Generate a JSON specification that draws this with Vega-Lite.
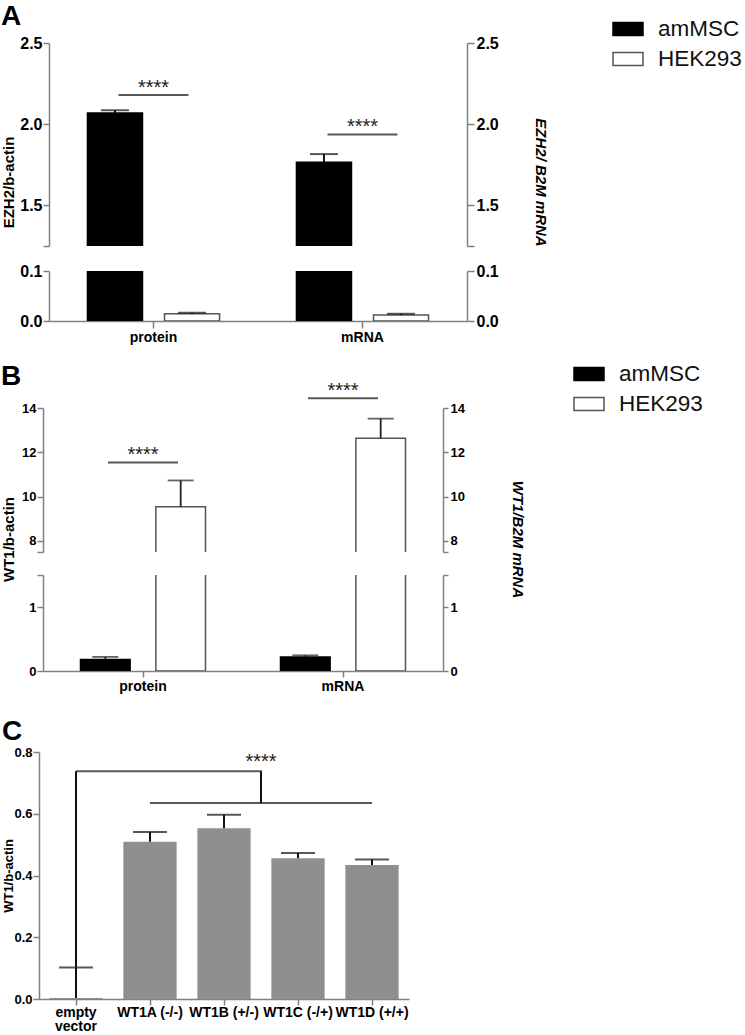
{
  "$schema": "https://vega.github.io/schema/vega-lite/v6.json",
  "padding": {"left": 1, "top": 3, "right": 0, "bottom": 0},
  "config": {
    "font": "Liberation Sans",
    "view": {"stroke": null},
    "axis": {"domainColor": "#808080", "tickColor": "#808080", "domainWidth": 1.5, "tickWidth": 1.5, "labelColor": "#000000", "labelFontWeight": "bold", "titleColor": "#000000", "titleFontWeight": "bold", "grid": false, "labelFont": "Liberation Sans", "titleFont": "Liberation Sans"},
    "title": {"font": "Liberation Sans", "fontWeight": "bold", "fontSize": 28, "color": "#000000", "anchor": "start", "frame": "bounds"}
  },
  "datasets": {
    "A": [
      {"cat": "protein", "series": "amMSC", "mean": 2.069, "upper": 2.086},
      {"cat": "protein", "series": "HEK293", "mean": 0.0144, "upper": 0.0165},
      {"cat": "mRNA", "series": "amMSC", "mean": 1.766, "upper": 1.816},
      {"cat": "mRNA", "series": "HEK293", "mean": 0.0119, "upper": 0.0144}
    ],
    "Asig": [
      {"cat": "protein", "y": 2.18, "label": "****"},
      {"cat": "mRNA", "y": 1.937, "label": "****"}
    ],
    "B": [
      {"cat": "protein", "series": "amMSC", "mean": 0.18, "upper": 0.22},
      {"cat": "protein", "series": "HEK293", "mean": 9.54, "upper": 10.73},
      {"cat": "mRNA", "series": "amMSC", "mean": 0.22, "upper": 0.245},
      {"cat": "mRNA", "series": "HEK293", "mean": 12.64, "upper": 13.52}
    ],
    "Bsig": [
      {"cat": "protein", "y": 11.54, "label": "****"},
      {"cat": "mRNA", "y": 14.44, "label": "****"}
    ],
    "C": [
      {"cat": "empty vector", "mean": 0.003, "upper": 0.102},
      {"cat": "WT1A (-/-)", "mean": 0.509, "upper": 0.541},
      {"cat": "WT1B (+/-)", "mean": 0.553, "upper": 0.597},
      {"cat": "WT1C (-/+)", "mean": 0.456, "upper": 0.473},
      {"cat": "WT1D (+/+)", "mean": 0.434, "upper": 0.452}
    ],
    "Cv1": [{"cat": "empty vector", "y": 0.102, "y2": 0.738}],
    "Cv2": [{"cat": "WT1B (+/-)", "y": 0.635, "y2": 0.738}],
    "Ch1": [{"cat": "WT1A (-/-)", "y": 0.738}],
    "Ch2": [{"cat": "WT1B (+/-)", "y": 0.635}],
    "Cstar": [{"cat": "WT1B (+/-)", "y": 0.738, "label": "****"}]
  },
  "spacing": 14,
  "resolve": {
    "scale": {"x": "independent", "y": "independent", "xOffset": "independent", "fill": "independent", "stroke": "independent"},
    "axis": {"x": "independent", "y": "independent"},
    "legend": {"fill": "independent", "stroke": "independent"}
  },
  "vconcat": [
    {
      "title": {"text": "A", "offset": -18},
      "spacing": 25,
      "bounds": "flush",
      "resolve": {
        "scale": {"y": "independent", "fill": "independent", "stroke": "independent"},
        "axis": {"y": "independent"},
        "legend": {"fill": "independent", "stroke": "independent"}
      },
      "vconcat": [
        {
          "width": 428, "height": 203,
          "resolve": {"axis": {"y": "independent"}},
          "layer": [
            {
              "data": {"name": "A"},
              "mark": {"type": "bar", "clip": true, "strokeWidth": 1.5},
              "encoding": {
                "x": {"field": "cat", "type": "nominal", "sort": ["protein", "mRNA"], "scale": {"range": [10, 428], "paddingInner": 0.368, "paddingOuter": 0.184}, "axis": null},
                "xOffset": {"field": "series", "type": "nominal", "sort": ["amMSC", "HEK293"], "scale": {"paddingInner": 0.286, "paddingOuter": 0}},
                "y": {"field": "mean", "type": "quantitative", "scale": {"domain": [1.25, 2.5], "nice": false, "zero": false},
                  "axis": {"orient": "left", "offset": -10, "values": [1.25, 1.5, 2, 2.5], "labelExpr": "datum.value < 1.3 ? '' : format(datum.value, '.1f')", "title": "EZH2/b-actin", "titleX": -36, "titleY": 139, "titleBaseline": "alphabetic", "titleFontSize": 15, "labelFontSize": 16, "tickSize": 6, "labelPadding": 1}},
                "fill": {"field": "series", "type": "nominal", "scale": {"domain": ["amMSC", "HEK293"], "range": ["#000000", "#ffffff"]},
                  "legend": {"orient": "none", "legendX": 573, "legendY": -30, "title": null, "symbolType": "M-1,-0.433H1V0.433H-1Z", "symbolSize": 900, "symbolStrokeWidth": 1.5, "labelFontSize": 22.5, "labelFont": "Liberation Sans", "labelColor": "#111111", "labelOffset": 14, "rowPadding": 2, "padding": 0}},
                "stroke": {"field": "series", "type": "nominal", "scale": {"domain": ["amMSC", "HEK293"], "range": ["#000000", "#555555"]},
                  "legend": {"orient": "none", "legendX": 573, "legendY": -30, "title": null, "symbolType": "M-1,-0.433H1V0.433H-1Z", "symbolSize": 900, "symbolStrokeWidth": 1.5, "labelFontSize": 22.5, "labelFont": "Liberation Sans", "labelColor": "#111111", "labelOffset": 14, "rowPadding": 2, "padding": 0}}
              }
            },
            {
              "data": {"name": "A"},
              "mark": {"type": "rule", "clip": true, "strokeWidth": 2, "color": "#111111"},
              "encoding": {
                "x": {"field": "cat", "type": "nominal", "sort": ["protein", "mRNA"], "axis": null},
                "xOffset": {"field": "series", "type": "nominal", "sort": ["amMSC", "HEK293"]},
                "y": {"field": "mean", "type": "quantitative",
                  "axis": {"orient": "right", "values": [1.25, 1.5, 2, 2.5], "labelExpr": "datum.value < 1.3 ? '' : format(datum.value, '.1f')", "title": "EZH2/ B2M mRNA", "titleFontStyle": "italic", "titleX": 68, "titleY": 139, "titleBaseline": "alphabetic", "titleFontSize": 15, "labelFontSize": 16, "tickSize": 7, "labelPadding": 2}},
                "y2": {"field": "upper"}
              }
            },
            {
              "data": {"name": "A"},
              "mark": {"type": "tick", "orient": "horizontal", "clip": true, "size": 28, "thickness": 2, "color": "#111111"},
              "encoding": {
                "x": {"field": "cat", "type": "nominal", "sort": ["protein", "mRNA"], "axis": null},
                "xOffset": {"field": "series", "type": "nominal", "sort": ["amMSC", "HEK293"]},
                "y": {"field": "upper", "type": "quantitative", "axis": null}
              }
            },
            {
              "data": {"name": "Asig"},
              "mark": {"type": "tick", "orient": "horizontal", "size": 70, "thickness": 2, "color": "#111111"},
              "encoding": {
                "x": {"field": "cat", "type": "nominal", "sort": ["protein", "mRNA"], "axis": null},
                "y": {"field": "y", "type": "quantitative", "axis": null}
              }
            },
            {
              "data": {"name": "Asig"},
              "mark": {"type": "text", "fontSize": 20, "color": "#222222", "baseline": "alphabetic", "dy": -1},
              "encoding": {
                "x": {"field": "cat", "type": "nominal", "sort": ["protein", "mRNA"], "axis": null},
                "y": {"field": "y", "type": "quantitative", "axis": null},
                "text": {"field": "label"}
              }
            }
          ]
        },
        {
          "width": 428, "height": 50,
          "resolve": {"axis": {"y": "independent"}},
          "layer": [
            {
              "data": {"name": "A"},
              "mark": {"type": "bar", "clip": true, "strokeWidth": 1.5},
              "encoding": {
                "x": {"field": "cat", "type": "nominal", "sort": ["protein", "mRNA"], "scale": {"range": [10, 428], "paddingInner": 0.368, "paddingOuter": 0.184}, "axis": {"title": null, "labelAngle": 0, "labelFontSize": 14, "tickSize": 7, "labelPadding": 2}},
                "xOffset": {"field": "series", "type": "nominal", "sort": ["amMSC", "HEK293"], "scale": {"paddingInner": 0.286, "paddingOuter": 0}},
                "y": {"field": "mean", "type": "quantitative", "scale": {"domain": [0, 0.1], "nice": false},
                  "axis": {"orient": "left", "offset": -10, "values": [0, 0.1], "format": ".1f", "title": null, "labelFontSize": 16, "tickSize": 6, "labelPadding": 1}},
                "fill": {"field": "series", "type": "nominal", "scale": {"domain": ["amMSC", "HEK293"], "range": ["#000000", "#ffffff"]}, "legend": null},
                "stroke": {"field": "series", "type": "nominal", "scale": {"domain": ["amMSC", "HEK293"], "range": ["#000000", "#555555"]}, "legend": null}
              }
            },
            {
              "data": {"name": "A"},
              "mark": {"type": "rule", "clip": true, "strokeWidth": 2, "color": "#111111"},
              "encoding": {
                "x": {"field": "cat", "type": "nominal", "sort": ["protein", "mRNA"], "axis": {"title": null, "labelAngle": 0, "labelFontSize": 14, "tickSize": 7, "labelPadding": 2}},
                "xOffset": {"field": "series", "type": "nominal", "sort": ["amMSC", "HEK293"]},
                "y": {"field": "mean", "type": "quantitative",
                  "axis": {"orient": "right", "values": [0, 0.1], "format": ".1f", "title": null, "labelFontSize": 16, "tickSize": 7, "labelPadding": 2}},
                "y2": {"field": "upper"}
              }
            },
            {
              "data": {"name": "A"},
              "mark": {"type": "tick", "orient": "horizontal", "clip": true, "size": 28, "thickness": 2, "color": "#111111"},
              "encoding": {
                "x": {"field": "cat", "type": "nominal", "sort": ["protein", "mRNA"], "axis": {"title": null, "labelAngle": 0, "labelFontSize": 14, "tickSize": 7, "labelPadding": 2}},
                "xOffset": {"field": "series", "type": "nominal", "sort": ["amMSC", "HEK293"]},
                "y": {"field": "upper", "type": "quantitative", "axis": null}
              }
            }
          ]
        }
      ]
    },
    {
      "spacing": 25,
      "resolve": {
        "scale": {"x": "independent", "y": "independent", "xOffset": "independent", "fill": "independent", "stroke": "independent"},
        "axis": {"x": "independent", "y": "independent"},
        "legend": {"fill": "independent", "stroke": "independent"}
      },
      "vconcat": [
        {
          "title": {"text": "B", "offset": -33},
          "spacing": 23,
          "bounds": "flush",
          "resolve": {
            "scale": {"y": "independent", "fill": "independent", "stroke": "independent"},
            "axis": {"y": "independent"},
            "legend": {"fill": "independent", "stroke": "independent"}
          },
          "vconcat": [
            {
              "width": 404, "height": 144,
              "resolve": {"axis": {"y": "independent"}},
              "layer": [
                {
                  "data": {"name": "B"},
                  "mark": {"type": "bar", "clip": true, "strokeWidth": 1.5},
                  "encoding": {
                    "x": {"field": "cat", "type": "nominal", "sort": ["protein", "mRNA"], "scale": {"range": [4, 404], "paddingInner": 0.375, "paddingOuter": 0.1875}, "axis": null},
                    "xOffset": {"field": "series", "type": "nominal", "sort": ["amMSC", "HEK293"], "scale": {"paddingInner": 0.342, "paddingOuter": 0}},
                    "y": {"field": "mean", "type": "quantitative", "scale": {"domain": [7.5, 14], "nice": false, "zero": false},
                      "axis": {"orient": "left", "offset": -4, "values": [7.5, 8, 10, 12, 14], "labelExpr": "datum.value < 7.9 ? '' : format(datum.value, 'd')", "title": "WT1/b-actin", "titleX": -30, "titleY": 131, "titleBaseline": "alphabetic", "titleFontSize": 15, "labelFontSize": 13, "tickSize": 6, "labelPadding": 1}},
                    "fill": {"field": "series", "type": "nominal", "scale": {"domain": ["amMSC", "HEK293"], "range": ["#000000", "#ffffff"]},
                      "legend": {"orient": "none", "legendX": 534, "legendY": -50, "title": null, "symbolType": "M-1,-0.433H1V0.433H-1Z", "symbolSize": 900, "symbolStrokeWidth": 1.5, "labelFontSize": 22.5, "labelFont": "Liberation Sans", "labelColor": "#111111", "labelOffset": 14, "rowPadding": 2, "padding": 0}},
                    "stroke": {"field": "series", "type": "nominal", "scale": {"domain": ["amMSC", "HEK293"], "range": ["#000000", "#555555"]},
                      "legend": {"orient": "none", "legendX": 534, "legendY": -50, "title": null, "symbolType": "M-1,-0.433H1V0.433H-1Z", "symbolSize": 900, "symbolStrokeWidth": 1.5, "labelFontSize": 22.5, "labelFont": "Liberation Sans", "labelColor": "#111111", "labelOffset": 14, "rowPadding": 2, "padding": 0}}
                  }
                },
                {
                  "data": {"name": "B"},
                  "mark": {"type": "rule", "clip": true, "strokeWidth": 1.8, "color": "#222222"},
                  "encoding": {
                    "x": {"field": "cat", "type": "nominal", "sort": ["protein", "mRNA"], "axis": null},
                    "xOffset": {"field": "series", "type": "nominal", "sort": ["amMSC", "HEK293"]},
                    "y": {"field": "mean", "type": "quantitative",
                      "axis": {"orient": "right", "values": [7.5, 8, 10, 12, 14], "labelExpr": "datum.value < 7.9 ? '' : format(datum.value, 'd')", "title": "WT1/B2M mRNA", "titleFontStyle": "italic", "titleX": 69, "titleY": 131, "titleBaseline": "alphabetic", "titleFontSize": 15, "labelFontSize": 13, "tickSize": 5, "labelPadding": 2}},
                    "y2": {"field": "upper"}
                  }
                },
                {
                  "data": {"name": "B"},
                  "mark": {"type": "tick", "orient": "horizontal", "clip": true, "size": 26, "thickness": 1.8, "color": "#222222"},
                  "encoding": {
                    "x": {"field": "cat", "type": "nominal", "sort": ["protein", "mRNA"], "axis": null},
                    "xOffset": {"field": "series", "type": "nominal", "sort": ["amMSC", "HEK293"]},
                    "y": {"field": "upper", "type": "quantitative", "axis": null}
                  }
                },
                {
                  "data": {"name": "Bsig"},
                  "mark": {"type": "tick", "orient": "horizontal", "size": 70, "thickness": 2, "color": "#111111"},
                  "encoding": {
                    "x": {"field": "cat", "type": "nominal", "sort": ["protein", "mRNA"], "axis": null},
                    "y": {"field": "y", "type": "quantitative", "axis": null}
                  }
                },
                {
                  "data": {"name": "Bsig"},
                  "mark": {"type": "text", "fontSize": 20, "color": "#222222", "baseline": "alphabetic", "dy": -1},
                  "encoding": {
                    "x": {"field": "cat", "type": "nominal", "sort": ["protein", "mRNA"], "axis": null},
                    "y": {"field": "y", "type": "quantitative", "axis": null},
                    "text": {"field": "label"}
                  }
                }
              ]
            },
            {
              "width": 404, "height": 96,
              "resolve": {"axis": {"y": "independent"}},
              "layer": [
                {
                  "data": {"name": "B"},
                  "mark": {"type": "bar", "clip": true, "strokeWidth": 1.5},
                  "encoding": {
                    "x": {"field": "cat", "type": "nominal", "sort": ["protein", "mRNA"], "scale": {"range": [4, 404], "paddingInner": 0.375, "paddingOuter": 0.1875}, "axis": {"title": null, "labelAngle": 0, "labelFontSize": 14, "tickSize": 6, "labelPadding": 2}},
                    "xOffset": {"field": "series", "type": "nominal", "sort": ["amMSC", "HEK293"], "scale": {"paddingInner": 0.342, "paddingOuter": 0}},
                    "y": {"field": "mean", "type": "quantitative", "scale": {"domain": [0, 1.5], "nice": false},
                      "axis": {"orient": "left", "offset": -4, "values": [0, 1, 1.5], "labelExpr": "datum.value > 1.4 ? '' : format(datum.value, 'd')", "title": null, "labelFontSize": 13, "tickSize": 6, "labelPadding": 1}},
                    "fill": {"field": "series", "type": "nominal", "scale": {"domain": ["amMSC", "HEK293"], "range": ["#000000", "#ffffff"]}, "legend": null},
                    "stroke": {"field": "series", "type": "nominal", "scale": {"domain": ["amMSC", "HEK293"], "range": ["#000000", "#555555"]}, "legend": null}
                  }
                },
                {
                  "data": {"name": "B"},
                  "mark": {"type": "rule", "clip": true, "strokeWidth": 1.8, "color": "#222222"},
                  "encoding": {
                    "x": {"field": "cat", "type": "nominal", "sort": ["protein", "mRNA"], "axis": {"title": null, "labelAngle": 0, "labelFontSize": 14, "tickSize": 6, "labelPadding": 2}},
                    "xOffset": {"field": "series", "type": "nominal", "sort": ["amMSC", "HEK293"]},
                    "y": {"field": "mean", "type": "quantitative",
                      "axis": {"orient": "right", "values": [0, 1, 1.5], "labelExpr": "datum.value > 1.4 ? '' : format(datum.value, 'd')", "title": null, "labelFontSize": 13, "tickSize": 5, "labelPadding": 2}},
                    "y2": {"field": "upper"}
                  }
                },
                {
                  "data": {"name": "B"},
                  "mark": {"type": "tick", "orient": "horizontal", "clip": true, "size": 26, "thickness": 1.8, "color": "#222222"},
                  "encoding": {
                    "x": {"field": "cat", "type": "nominal", "sort": ["protein", "mRNA"], "axis": {"title": null, "labelAngle": 0, "labelFontSize": 14, "tickSize": 6, "labelPadding": 2}},
                    "xOffset": {"field": "series", "type": "nominal", "sort": ["amMSC", "HEK293"]},
                    "y": {"field": "upper", "type": "quantitative", "axis": null}
                  }
                }
              ]
            }
          ]
        },
        {
          "title": {"text": "C", "offset": 0},
          "width": 370, "height": 247,
          "layer": [
            {
              "data": {"name": "C"},
              "mark": {"type": "bar", "color": "#8f8f8f"},
              "encoding": {
                "x": {"field": "cat", "type": "nominal", "sort": ["empty vector", "WT1A (-/-)", "WT1B (+/-)", "WT1C (-/+)", "WT1D (+/+)"], "scale": {"paddingInner": 0.28, "paddingOuter": 0.14},
                  "axis": {"title": null, "labelAngle": 0, "labelFontSize": 14, "tickSize": 6, "labelPadding": 0, "labelLineHeight": 14, "labelExpr": "datum.label == 'empty vector' ? ['empty', 'vector'] : datum.label"}},
                "y": {"field": "mean", "type": "quantitative", "scale": {"domain": [0, 0.8], "nice": false},
                  "axis": {"values": [0, 0.2, 0.4, 0.6, 0.8], "format": ".1f", "title": "WT1/b-actin", "titleX": -27, "titleBaseline": "alphabetic", "titleFontSize": 13, "labelFontSize": 13, "tickSize": 6, "labelPadding": 1}}
              }
            },
            {
              "data": {"name": "C"},
              "mark": {"type": "rule", "strokeWidth": 2, "color": "#111111"},
              "encoding": {
                "x": {"field": "cat", "type": "nominal", "sort": ["empty vector", "WT1A (-/-)", "WT1B (+/-)", "WT1C (-/+)", "WT1D (+/+)"]},
                "y": {"field": "mean", "type": "quantitative"},
                "y2": {"field": "upper"}
              }
            },
            {
              "data": {"name": "C"},
              "mark": {"type": "tick", "orient": "horizontal", "size": 34, "thickness": 2, "color": "#111111"},
              "encoding": {
                "x": {"field": "cat", "type": "nominal", "sort": ["empty vector", "WT1A (-/-)", "WT1B (+/-)", "WT1C (-/+)", "WT1D (+/+)"]},
                "y": {"field": "upper", "type": "quantitative"}
              }
            },
            {
              "data": {"name": "Cv1"},
              "mark": {"type": "rule", "strokeWidth": 2, "color": "#111111"},
              "encoding": {
                "x": {"field": "cat", "type": "nominal", "sort": ["empty vector", "WT1A (-/-)", "WT1B (+/-)", "WT1C (-/+)", "WT1D (+/+)"]},
                "y": {"field": "y", "type": "quantitative"},
                "y2": {"field": "y2"}
              }
            },
            {
              "data": {"name": "Cv2"},
              "mark": {"type": "rule", "strokeWidth": 2, "color": "#111111", "xOffset": 37},
              "encoding": {
                "x": {"field": "cat", "type": "nominal", "sort": ["empty vector", "WT1A (-/-)", "WT1B (+/-)", "WT1C (-/+)", "WT1D (+/+)"]},
                "y": {"field": "y", "type": "quantitative"},
                "y2": {"field": "y2"}
              }
            },
            {
              "data": {"name": "Ch1"},
              "mark": {"type": "tick", "orient": "horizontal", "size": 186, "thickness": 2, "color": "#111111", "xOffset": 19},
              "encoding": {
                "x": {"field": "cat", "type": "nominal", "sort": ["empty vector", "WT1A (-/-)", "WT1B (+/-)", "WT1C (-/+)", "WT1D (+/+)"]},
                "y": {"field": "y", "type": "quantitative"}
              }
            },
            {
              "data": {"name": "Ch2"},
              "mark": {"type": "tick", "orient": "horizontal", "size": 222, "thickness": 2, "color": "#111111", "xOffset": 37},
              "encoding": {
                "x": {"field": "cat", "type": "nominal", "sort": ["empty vector", "WT1A (-/-)", "WT1B (+/-)", "WT1C (-/+)", "WT1D (+/+)"]},
                "y": {"field": "y", "type": "quantitative"}
              }
            },
            {
              "data": {"name": "Cstar"},
              "mark": {"type": "text", "fontSize": 20, "color": "#222222", "baseline": "alphabetic", "dy": -3, "xOffset": 37},
              "encoding": {
                "x": {"field": "cat", "type": "nominal", "sort": ["empty vector", "WT1A (-/-)", "WT1B (+/-)", "WT1C (-/+)", "WT1D (+/+)"]},
                "y": {"field": "y", "type": "quantitative"},
                "text": {"field": "label"}
              }
            }
          ]
        }
      ]
    }
  ]
}
